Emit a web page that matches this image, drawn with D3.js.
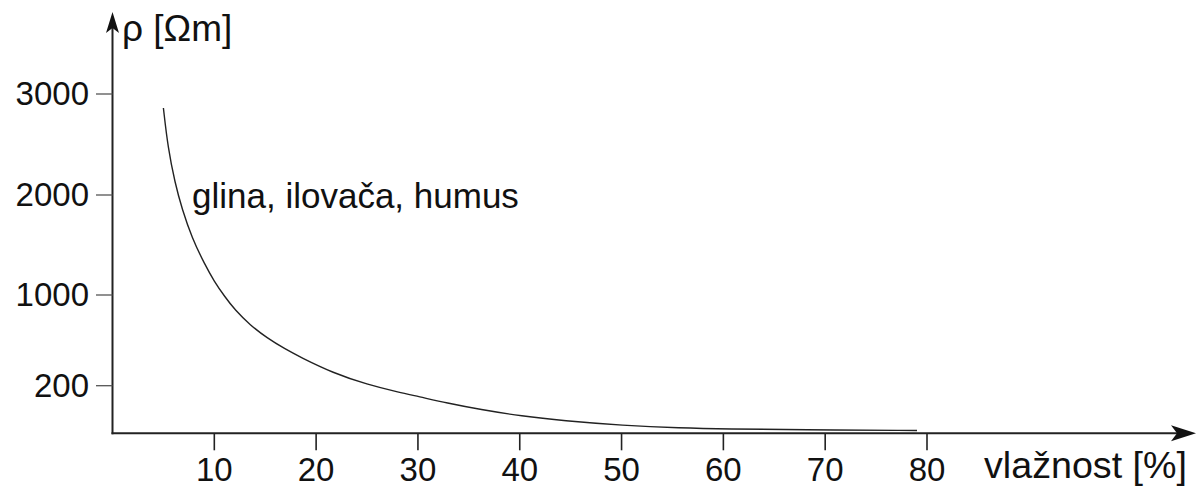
<!DOCTYPE html>
<html>
<head>
<meta charset="utf-8">
<script src="https://cdn.jsdelivr.net/npm/d3@7"></script>
<style>
  html, body { margin: 0; padding: 0; background: #fff; }
  svg { display: block; }
  text { font-family: "Liberation Sans", Arial, sans-serif; fill: #111; }
</style>
</head>
<body>
<svg id="chart" width="1197" height="488"></svg>
<script>
// ---- data ----
const moisture    = [5.0, 5.45, 6.14, 6.83, 7.81, 9.09, 9.97, 11.05, 12.03, 13.51, 15.18, 16.94, 18.42, 21.66, 25.0, 28.24, 30.01, 32.85, 36.1, 40.22, 44.25, 50.14, 55.74, 60.45, 67.53, 79.02];
const resistivity = [2861, 2465, 2119, 1860, 1570, 1300, 1140, 982, 868, 735, 621, 524, 453, 312, 211, 171, 155, 127, 100, 72, 53, 33, 22, 18, 15, 12];
const xTicks = [10, 20, 30, 40, 50, 60, 70, 80];
const yTicks = [200, 1000, 2000, 3000];
const seriesLabel = "glina, ilovača, humus";
const xTitle = "vlažnost [%]";
const yTitle = "ρ [Ωm]";

const svg = d3.select("#chart");

const x = d3.scaleLinear().domain([0, 80]).range([112.5, 927]);
// the original axis is not linear at the bottom: piecewise scale
const y = d3.scaleLinear().domain([0, 200, 1000, 2000, 3000]).range([433.3, 385.7, 295, 195, 94]);

const axisY0 = 433.3, axisX0 = 112.5;

// x axis line + arrow
svg.append("line").attr("x1", axisX0 - 1).attr("x2", 1190).attr("y1", axisY0).attr("y2", axisY0)
  .attr("stroke", "#222").attr("stroke-width", 2);
svg.append("path")
  .attr("d", `M1196,${axisY0} L1171,${axisY0 - 8} L1177,${axisY0} L1171,${axisY0 + 8} Z`)
  .attr("fill", "#111");

// y axis line + arrow
svg.append("line").attr("x1", axisX0).attr("x2", axisX0).attr("y1", axisY0 + 1).attr("y2", 20)
  .attr("stroke", "#222").attr("stroke-width", 2);
svg.append("path")
  .attr("d", `M${axisX0},12 L${axisX0 - 6.5},33 L${axisX0},28 L${axisX0 + 6.5},33 Z`)
  .attr("fill", "#111");

// x ticks
const xg = svg.append("g");
xg.selectAll("line").data(xTicks).join("line")
  .attr("x1", d => x(d)).attr("x2", d => x(d))
  .attr("y1", axisY0).attr("y2", axisY0 + 17)
  .attr("stroke", "#222").attr("stroke-width", 1.6);
xg.selectAll("text").data(xTicks).join("text")
  .attr("x", d => x(d)).attr("y", 481)
  .attr("text-anchor", "middle").attr("font-size", 33)
  .text(d => d);

// y ticks
const yg = svg.append("g");
yg.selectAll("line").data(yTicks).join("line")
  .attr("x1", 96).attr("x2", axisX0)
  .attr("y1", d => y(d)).attr("y2", d => y(d))
  .attr("stroke", "#555").attr("stroke-width", 1.3);
yg.selectAll("text").data(yTicks).join("text")
  .attr("x", 89).attr("y", d => y(d) + 11)
  .attr("text-anchor", "end").attr("font-size", 33)
  .text(d => d);

// titles
svg.append("text").attr("x", 984).attr("y", 478).attr("font-size", 36)
  .attr("textLength", 203).attr("lengthAdjust", "spacingAndGlyphs").text(xTitle);
svg.append("text").attr("x", 122).attr("y", 41).attr("font-size", 37).text(yTitle);

// curve
const pts = moisture.map((m, i) => [m, resistivity[i]]);
const line = d3.line().x(d => x(d[0])).y(d => y(d[1])).curve(d3.curveBasis);
svg.append("path").datum(pts).attr("d", line)
  .attr("fill", "none").attr("stroke", "#222").attr("stroke-width", 1.4);

// series label
svg.append("text").attr("x", 192).attr("y", 208).attr("font-size", 35).text(seriesLabel);
</script>
</body>
</html>
